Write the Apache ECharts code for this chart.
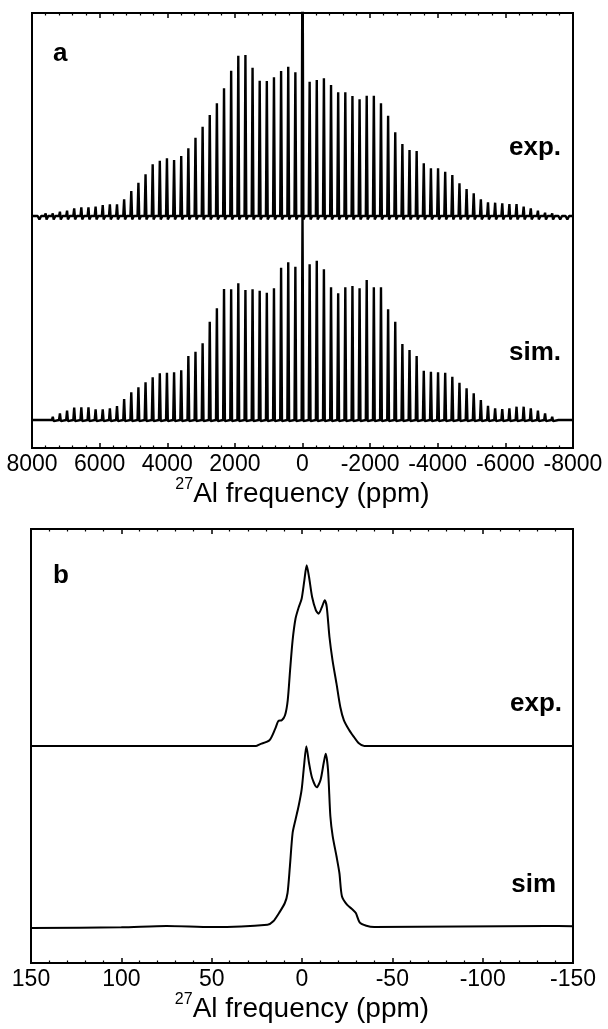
<!DOCTYPE html>
<html>
<head>
<meta charset="utf-8">
<script src="https://cdn.jsdelivr.net/npm/echarts@6/dist/echarts.min.js"></script>
<style>
  html, body { margin: 0; padding: 0; background: #fff; }
  #chart { width: 608px; height: 1029px; }
</style>
</head>
<body>
<div id="chart"></div>
<script>
// panel a: spinning sidebands, order n sits at n * spinningRate ppm
const spinningRate = 211;
const sidebandOrder = [37, 36, 35, 34, 33, 32, 31, 30, 29, 28, 27, 26, 25, 24, 23, 22, 21, 20, 19,
  18, 17, 16, 15, 14, 13, 12, 11, 10, 9, 8, 7, 6, 5, 4, 3, 2, 1, 0,
  -1, -2, -3, -4, -5, -6, -7, -8, -9, -10, -11, -12, -13, -14, -15, -16, -17, -18,
  -19, -20, -21, -22, -23, -24, -25, -26, -27, -28, -29, -30, -31, -32, -33, -34, -35, -36, -37];
// peak heights above each baseline (same order as sidebandOrder)
const expSidebands = [1, 2.7, 2.7, 4.3, 5.3, 7.7, 8.7, 8.7, 9.3, 11, 11.7, 11.7, 16.7, 25, 33.3, 41.7, 51.7, 55.3, 57.7,
  56, 60, 67.7, 78.3, 89.3, 101, 112.7, 127.7, 145.3, 160.3, 161, 148.3, 135.3, 135, 138.7, 145, 149.3, 143.7, 300,
  134.3, 136, 137.7, 131, 123.7, 123.7, 120, 116.7, 120.3, 120.3, 112.7, 100.3, 83.7, 72, 66, 65, 52.7, 47.7,
  47.7, 44.3, 41, 32.7, 27, 22.7, 16.7, 13.7, 13.3, 12.7, 12, 12, 9.3, 7.7, 5.3, 3.3, 2.7, 1, 0.5];
const simSidebands = [0.5, 1.7, 3.3, 6.7, 9.3, 12.3, 12.7, 12.7, 10.7, 10.7, 11.7, 14, 21, 27.7, 32.7, 37.7, 42.7, 46.7, 47.3,
  47.7, 49.7, 64, 68.3, 76.7, 98.3, 111.7, 131, 130.7, 136.7, 130, 130.7, 129.3, 127.3, 131.7, 152.3, 157.7, 153.3, 205,
  155.7, 159.3, 150.7, 132.7, 126.7, 132.7, 134, 131.7, 140, 132.7, 132.7, 110.7, 98.3, 76, 70, 64, 49.3, 48.3,
  47.7, 47.3, 43.3, 37.3, 31.7, 26.7, 20, 14.3, 11.7, 11, 11.7, 13.3, 13.3, 11.7, 9.3, 6.7, 3.3, 1.7, 0.5];

// panel b: central transition
const bExpShift = [150, 25.5, 23.4, 18.0, 14.8, 13.1, 11.2, 9.4, 7.9, 6.6, 5.2, 3.6, 1.9, 0.2, -1.3, -2.6, -3.9,
  -5.6, -7.7, -9.2, -10.9, -12.6, -13.7, -15.2, -16.9, -19.1, -21.2, -23.2, -26.0, -28.5, -31.3, -34.5, -150];
const bExpInt = [0, 0, 1.7, 5.7, 17.3, 25, 25.7, 30.7, 45.7, 75.7, 105.7, 127.3, 138.3, 147.3, 165.7, 180.7, 169,
  149, 135.7, 132.3, 138.3, 145.7, 139, 109, 85.7, 62.3, 39, 25.7, 16.3, 9.7, 3, 0, 0];
const bSimShift = [150, 100, 75, 50, 19.1, 15.9, 12.7, 9.5, 8.0, 6.7, 5.2, 3.6, 1.9, 0.2, -1.1, -2.4, -3.9, -5.6,
  -8.2, -10.3, -12.0, -13.1, -14.4, -15.7, -17.0, -19.1, -20.7, -22.1, -24.9, -28.1, -29.8, -31.9, -35.6, -40, -135, -150];
const bSimInt = [-1, -0.3, 1, 0, 2.3, 5.7, 14, 24, 34, 60.7, 94, 107.3, 120.7, 137.3, 160.7, 180.7, 164, 149,
  139.7, 147.3, 164, 173.3, 157.3, 110.7, 90.7, 70.7, 54, 30.7, 22.3, 17.3, 14, 4.7, 1.3, 0, 1, 0.7];

const aTicks = { min: -8000, max: 8000, interval: 2000 };
const bTicks = { min: -150, max: 150, interval: 50 };

// vertical offsets of the stacked traces (in y-axis units)
const aExpOffset = 232, aSimOffset = 28;
const bExpOffset = 217, bSimOffset = 36;
const peakHalfWidth = 26;

const FONT = 'Liberation Sans, Arial, Helvetica, sans-serif';

function sidebandTrace(heights, offset, dip) {
  const pts = [[8000, offset]];
  sidebandOrder.forEach(function (n, i) {
    const c = n * spinningRate;
    pts.push([c + peakHalfWidth, offset]);
    pts.push([c, offset + heights[i]]);
    pts.push([c - peakHalfWidth, offset + dip]);
    pts.push([c - 3 * peakHalfWidth, offset]);
  });
  pts.push([-8000, offset]);
  return pts;
}

function shiftedTrace(shift, values, offset) {
  return shift.map(function (s, i) { return [s, values[i] + offset]; });
}

function freqAxis(gridIndex, ticks, position, withLabels) {
  return {
    type: 'value',
    gridIndex: gridIndex,
    position: position,
    min: ticks.min,
    max: ticks.max,
    interval: ticks.interval,
    inverse: true,
    axisLine: { show: true, onZero: false, lineStyle: { color: '#000', width: 2 } },
    axisTick: { show: true, inside: true, length: 5, lineStyle: { color: '#000', width: 1.5 } },
    minorTick: { show: true, splitNumber: 5, length: 2.5, lineStyle: { color: '#000', width: 1.2 } },
    splitLine: { show: false },
    axisLabel: {
      show: withLabels, color: '#000', fontSize: 23, fontFamily: FONT, margin: 5,
      formatter: function (v) { return String(v); }
    },
    name: withLabels ? '{sup|27}{main|Al frequency (ppm)}' : '',
    nameLocation: 'middle',
    nameGap: 22,
    nameTextStyle: {
      color: '#000', fontFamily: FONT,
      rich: {
        sup: { fontSize: 16, lineHeight: 16, verticalAlign: 'top', fontFamily: FONT, color: '#000' },
        main: { fontSize: 28, lineHeight: 31, verticalAlign: 'bottom', fontFamily: FONT, color: '#000' }
      }
    }
  };
}

function hiddenY(gridIndex, max) {
  return { type: 'value', gridIndex: gridIndex, min: 0, max: max, show: false };
}

function trace(xAxisIndex, yAxisIndex, data, width, smooth) {
  return {
    type: 'line', xAxisIndex: xAxisIndex, yAxisIndex: yAxisIndex, data: data,
    showSymbol: false, symbol: 'none', smooth: smooth, clip: true,
    lineStyle: { color: '#000', width: width }, animation: false
  };
}

function label(text, x, y, align) {
  return {
    type: 'text', x: x, y: y,
    style: { text: text, font: 'bold 26px ' + FONT, fill: '#000', align: align, verticalAlign: 'middle' }
  };
}

const chart = echarts.init(document.getElementById('chart'), null, { renderer: 'canvas' });

chart.setOption({
  backgroundColor: '#fff',
  animation: false,
  grid: [
    { left: 32, top: 13, width: 541, height: 435, show: true, borderColor: '#000', borderWidth: 2, backgroundColor: 'transparent' },
    { left: 31, top: 529, width: 542, height: 434, show: true, borderColor: '#000', borderWidth: 2, backgroundColor: 'transparent' }
  ],
  xAxis: [
    freqAxis(0, aTicks, 'bottom', true),
    freqAxis(0, aTicks, 'top', false),
    freqAxis(1, bTicks, 'bottom', true),
    freqAxis(1, bTicks, 'top', false)
  ],
  yAxis: [hiddenY(0, 435), hiddenY(1, 434)],
  series: [
    trace(0, 0, sidebandTrace(expSidebands, aExpOffset, -3.5), 2.4, false),
    trace(0, 0, sidebandTrace(simSidebands, aSimOffset, -1.2), 2.4, false),
    trace(2, 1, shiftedTrace(bExpShift, bExpInt, bExpOffset), 2, 0.25),
    trace(2, 1, shiftedTrace(bSimShift, bSimInt, bSimOffset), 2, 0.25)
  ],
  graphic: [
    label('a', 53, 54, 'left'),
    label('exp.', 561, 148, 'right'),
    label('sim.', 561, 353, 'right'),
    label('b', 53, 576, 'left'),
    label('exp.', 562, 704, 'right'),
    label('sim', 556, 885, 'right')
  ]
});
</script>
</body>
</html>
